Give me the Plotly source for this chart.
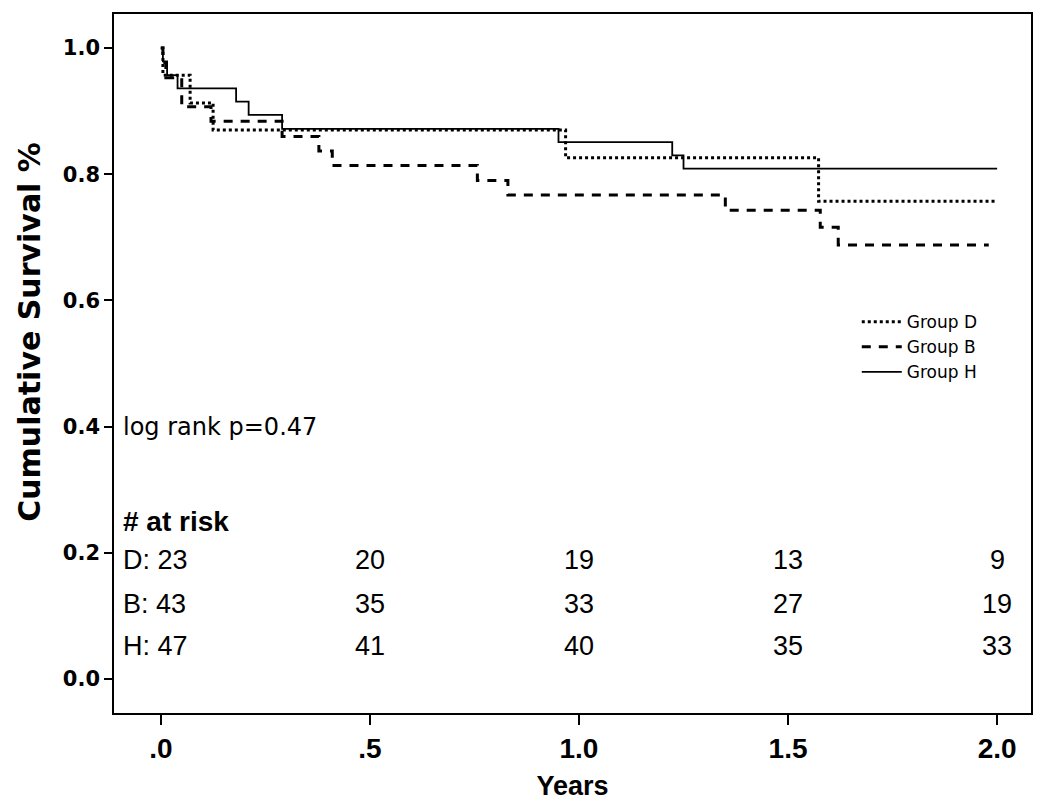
import plotly.graph_objects as go

# Kaplan-Meier step data (time in years, survival)
time_D = [0.0, 0.005, 0.07, 0.125, 0.968, 1.573, 2.0]
surv_D = [1.0, 0.957, 0.913, 0.870, 0.826, 0.757, 0.757]

time_B = [0.0, 0.005, 0.012, 0.05, 0.12, 0.29, 0.378, 0.41, 0.757, 0.83, 1.35, 1.577, 1.62, 1.98]
surv_B = [1.0, 0.977, 0.953, 0.907, 0.884, 0.860, 0.837, 0.814, 0.790, 0.767, 0.743, 0.716, 0.688, 0.688]

time_H = [0.0, 0.005, 0.015, 0.04, 0.18, 0.21, 0.29, 0.951, 1.223, 1.25, 2.0]
surv_H = [1.0, 0.979, 0.957, 0.936, 0.915, 0.894, 0.872, 0.851, 0.830, 0.809, 0.809]

group_names = ["Group D", "Group B", "Group H"]

# Numbers at risk
risk_times = [0.5, 1.0, 1.5, 2.0]
risk_labels = ["D: 23", "B: 43", "H: 47"]
risk_D = [20, 19, 13, 9]
risk_B = [35, 33, 27, 19]
risk_H = [41, 40, 35, 33]
risk_rows_y = [0.189, 0.119, 0.052]

x_ticks = [0.0, 0.5, 1.0, 1.5, 2.0]
x_tick_text = [".0", ".5", "1.0", "1.5", "2.0"]
y_ticks = [0.0, 0.2, 0.4, 0.6, 0.8, 1.0]
y_tick_text = ["0.0", "0.2", "0.4", "0.6", "0.8", "1.0"]

NARROW = "Liberation Sans, Arial"

fig = go.Figure()
fig.add_trace(go.Scatter(x=time_D, y=surv_D, mode="lines", line_shape="hv",
                         name=group_names[0],
                         line=dict(color="black", width=3, dash="3px,3px")))
fig.add_trace(go.Scatter(x=time_B, y=surv_B, mode="lines", line_shape="hv",
                         name=group_names[1],
                         line=dict(color="black", width=3, dash="9px,8px")))
fig.add_trace(go.Scatter(x=time_H, y=surv_H, mode="lines", line_shape="hv",
                         name=group_names[2],
                         line=dict(color="black", width=1.8)))

txt_font = dict(family=NARROW, size=27, color="black")

annotations = [
    dict(x=-0.095, y=0.40, xref="x", yref="y", text="log rank p=0.47", showarrow=False,
         xanchor="left", yanchor="middle",
         font=dict(family="DejaVu Sans", size=24, color="black")),
    dict(x=-0.095, y=0.249, xref="x", yref="y", text="<b># at risk</b>", showarrow=False,
         xanchor="left", yanchor="middle", font=dict(family=NARROW, size=28, color="black")),
    dict(x=-0.093, y=0.545, xref="paper", yref="paper", text="<b>Cumulative Survival %</b>",
         showarrow=False, textangle=-90, xanchor="center", yanchor="middle",
         font=dict(family="DejaVu Sans", size=30, color="black")),
]
for lbl, ry, vals in zip(risk_labels, risk_rows_y, [risk_D, risk_B, risk_H]):
    annotations.append(dict(x=-0.095, y=ry, xref="x", yref="y", text=lbl, showarrow=False,
                            xanchor="left", yanchor="middle", font=txt_font))
    for t, v in zip(risk_times, vals):
        annotations.append(dict(x=t, y=ry, xref="x", yref="y", text=str(v), showarrow=False,
                                xanchor="center", yanchor="middle", font=txt_font))

fig.update_layout(
    width=1050, height=801,
    margin=dict(l=106, r=27, t=6, b=96, autoexpand=False),
    paper_bgcolor="white", plot_bgcolor="white",
    showlegend=True,
    legend=dict(x=0.81, y=0.585, xanchor="left", yanchor="top",
                bgcolor="rgba(0,0,0,0)", font=dict(family="DejaVu Sans", size=17, color="black"),
                tracegroupgap=0, itemwidth=40),
    annotations=annotations,
    xaxis=dict(range=[-0.112, 2.081], tickvals=x_ticks, ticktext=x_tick_text,
               showgrid=False, zeroline=False, showline=True, linecolor="black", linewidth=1.5,
               mirror=True, ticks="outside", ticklen=10, tickwidth=1.5, tickcolor="black",
               tickfont=dict(family=NARROW, size=28, color="black", weight="bold"),
               title=dict(text="<b>Years</b>", standoff=13,
                          font=dict(family=NARROW, size=27, color="black"))),
    yaxis=dict(range=[-0.054, 1.054], tickvals=y_ticks, ticktext=y_tick_text,
               showgrid=False, zeroline=False, showline=True, linecolor="black", linewidth=1.5,
               mirror=True, ticks="outside", ticklen=8, tickwidth=1.5, tickcolor="black",
               tickfont=dict(family="DejaVu Sans", size=21, color="black", weight="bold")),
)

fig.write_html("out.html")
